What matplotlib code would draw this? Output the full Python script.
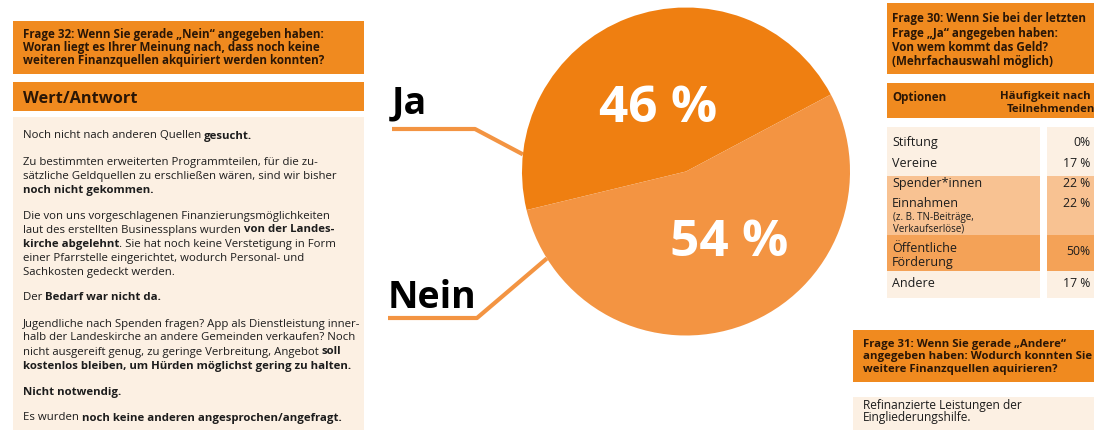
import matplotlib
matplotlib.use("Agg")
import matplotlib.pyplot as plt
from matplotlib.font_manager import FontProperties
from matplotlib.patches import Rectangle
import numpy as np

plt.rcParams['font.family'] = ['Open Sans', 'DejaVu Sans']

# === Data ===

pie_labels = ['Ja', 'Nein']
pie_values = [46, 54]

q32_title = [
    'Frage 32: Wenn Sie gerade „Nein“ angegeben haben:',
    'Woran liegt es Ihrer Meinung nach, dass noch keine',
    'weiteren Finanzquellen akquiriert werden konnten?',
]
q32_header = 'Wert/Antwort'

# each answer = list of lines, each line = list of (text, bold)
q32_answers = [
    [[('Noch nicht nach anderen Quellen ', False), ('gesucht.', True)]],
    [[('Zu bestimmten erweiterten Programmteilen, für die zu-', False)],
     [('sätzliche Geldquellen zu erschließen wären, sind wir bisher', False)],
     [('noch nicht gekommen.', True)]],
    [[('Die von uns vorgeschlagenen Finanzierungsmöglichkeiten', False)],
     [('laut des erstellten Businessplans wurden ', False), ('von der Landes-', True)],
     [('kirche abgelehnt', True), ('. Sie hat noch keine Verstetigung in Form', False)],
     [('einer Pfarrstelle eingerichtet, wodurch Personal- und', False)],
     [('Sachkosten gedeckt werden.', False)]],
    [[('Der ', False), ('Bedarf war nicht da.', True)]],
    [[('Jugendliche nach Spenden fragen? App als Dienstleistung inner-', False)],
     [('halb der Landeskirche an andere Gemeinden verkaufen? Noch', False)],
     [('nicht ausgereift genug, zu geringe Verbreitung, Angebot ', False), ('soll', True)],
     [('kostenlos bleiben, um Hürden möglichst gering zu halten.', True)]],
    [[('Nicht notwendig.', True)]],
    [[('Es wurden ', False), ('noch keine anderen angesprochen/angefragt.', True)]],
]

q30_title = [
    'Frage 30: Wenn Sie bei der letzten',
    'Frage „Ja“ angegeben haben:',
    'Von wem kommt das Geld?',
    '(Mehrfachauswahl möglich)',
]
q30_col_headers = ['Optionen', 'Häufigkeit nach', 'Teilnehmenden']
q30_options = [['Stiftung'], ['Vereine'], ['Spender*innen'], ['Einnahmen'],
               ['Öffentliche', 'Förderung'], ['Andere']]
q30_notes = ['', '', '', '(z. B. TN-Beiträge,\nVerkaufserlöse)', '', '']
q30_values = [0, 17, 22, 22, 50, 17]
q30_value_labels = ['0%', '17 %', '22 %', '22 %', '50%', '17 %']

q31_title = [
    'Frage 31: Wenn Sie gerade „Andere“',
    'angegeben haben: Wodurch konnten Sie',
    'weitere Finanzquellen aquirieren?',
]
q31_answer = ['Refinanzierte Leistungen der', 'Eingliederungshilfe.']

# === Styles / layout (pixel coordinates, y downwards) ===

W, H = 1094, 430
ORANGE = '#f08a1f'
JA_COLOR = '#ef7f11'
NEIN_COLOR = '#f39442'
BEIGE = '#fcf0e3'
MID = '#f8c292'
DARK = '#f4a257'
TEXT = '#1c1c1c'
HEAD_TEXT = '#2a1606'

PIE_CX, PIE_CY, PIE_R = 686, 171.5, 164

BODY_PT = 8.2
HEAD_PT = 8.4


def text_width(renderer, s, size, weight):
    fp = FontProperties(family=plt.rcParams['font.family'], size=size, weight=weight)
    w1, _, _ = renderer.get_text_width_height_descent(s + 'x', fp, ismath=False)
    w2, _, _ = renderer.get_text_width_height_descent('x', fp, ismath=False)
    return w1 - w2


def draw_rich(ax, renderer, x, y, parts, size, color=TEXT):
    for txt, bold in parts:
        weight = 'bold' if bold else 'normal'
        ax.text(x, y, txt, fontsize=size, fontweight=weight, color=color,
                va='baseline', ha='left')
        x += text_width(renderer, txt, size, weight)


def draw_left_panel(ax, renderer):
    ax.add_patch(Rectangle((13, 21), 351, 53, color=ORANGE, lw=0))
    for i, line in enumerate(q32_title):
        ax.text(23, 38 + i * 13, line, fontsize=HEAD_PT, fontweight='bold',
                color=HEAD_TEXT, va='baseline')
    ax.add_patch(Rectangle((13, 82), 351, 29, color=ORANGE, lw=0))
    ax.text(23, 103, q32_header, fontsize=11.8, fontweight='bold',
            color=HEAD_TEXT, va='baseline')
    ax.add_patch(Rectangle((13, 117), 351, 320, color=BEIGE, lw=0))

    y = 138.5
    for answer in q32_answers:
        for line in answer:
            draw_rich(ax, renderer, 23, y, line, BODY_PT)
            y += 14
        y += 12


def draw_pie(fig, ax):
    ax_pie = fig.add_axes([(PIE_CX - PIE_R) / W, (H - PIE_CY - PIE_R) / H,
                           2 * PIE_R / W, 2 * PIE_R / H])
    wedges, _, autotexts = ax_pie.pie(
        pie_values, colors=[JA_COLOR, NEIN_COLOR], startangle=28,
        counterclock=True, radius=1, autopct=lambda p: f'{p:.0f} %',
        wedgeprops=dict(linewidth=0),
        textprops=dict(color='white', fontsize=37, fontweight='bold'))
    # the percentages sit a bit off the wedge middles in the original
    label_polar = [(0.42, 114), (0.51, 301)]
    for t, (r, ang) in zip(autotexts, label_polar):
        a = np.radians(ang)
        t.set_position((r * np.cos(a), r * np.sin(a)))
    ax_pie.set_xlim(-1, 1)
    ax_pie.set_ylim(-1, 1)
    ax_pie.axis('off')

    # leader lines + labels
    leaders = {'Ja': (174, (475, 129), 392, 113),
               'Nein': (212, (477, 318), 388, 308)}
    for lab in pie_labels:
        ang, elbow, x0, base = leaders[lab]
        a = np.radians(ang)
        end = (PIE_CX + PIE_R * np.cos(a), PIE_CY - PIE_R * np.sin(a))
        ax.plot([x0, elbow[0], end[0]], [elbow[1], elbow[1], end[1]],
                color=NEIN_COLOR, lw=3, solid_capstyle='butt', zorder=1)
        ax.text(x0, base, lab, fontsize=27, fontweight='bold', color='black',
                va='baseline')


def draw_right_panel(ax):
    ax.add_patch(Rectangle((887, 3), 220, 71, color=ORANGE, lw=0))
    for i, line in enumerate(q30_title):
        ax.text(892, 22 + i * 14.5, line, fontsize=HEAD_PT, fontweight='bold',
                color=HEAD_TEXT, va='baseline')

    ax.add_patch(Rectangle((887, 83), 220, 35, color=ORANGE, lw=0))
    ax.text(892, 101, q30_col_headers[0], fontsize=HEAD_PT, fontweight='bold',
            color=HEAD_TEXT, va='baseline')
    ax.text(1000, 99, q30_col_headers[1], fontsize=8.2, fontweight='bold',
            color=HEAD_TEXT, va='baseline')
    ax.text(1007, 112, q30_col_headers[2], fontsize=8.2, fontweight='bold',
            color=HEAD_TEXT, va='baseline')

    row_edges = [127, 152, 176, 193, 235, 271, 298]
    text_y = [146, 167, 187, 207, 252, 287]
    value_y = [146, 167, 187, 207, 255, 287]
    for i, (opt, note, val, vlab) in enumerate(zip(q30_options, q30_notes,
                                                    q30_values, q30_value_labels)):
        if val >= 50:
            col = DARK
        elif val >= 20:
            col = MID
        else:
            col = BEIGE
        top, bot = row_edges[i], row_edges[i + 1]
        ax.add_patch(Rectangle((887, top), 153, bot - top, color=col, lw=0))
        ax.add_patch(Rectangle((1047, top), 60, bot - top, color=col, lw=0))
        for j, line in enumerate(opt):
            ax.text(892, text_y[i] + j * 14, line, fontsize=9, color=TEXT,
                    va='baseline')
        if note:
            for j, line in enumerate(note.split('\n')):
                ax.text(893, text_y[i] + 13 + j * 11.5, line, fontsize=7,
                        color=TEXT, va='baseline')
        ax.text(1090, value_y[i], vlab, fontsize=8.8, color=TEXT,
                va='baseline', ha='right')

    ax.add_patch(Rectangle((853, 330), 260, 52, color=ORANGE, lw=0))
    for i, line in enumerate(q31_title):
        ax.text(863, 347 + i * 12.5, line, fontsize=8.2, fontweight='bold',
                color=HEAD_TEXT, va='baseline')
    ax.add_patch(Rectangle((853, 397), 260, 40, color=BEIGE, lw=0))
    for i, line in enumerate(q31_answer):
        ax.text(863, 409 + i * 12, line, fontsize=8.6, color=TEXT,
                va='baseline')


def main():
    fig = plt.figure(figsize=(W / 100, H / 100), dpi=100)
    ax = fig.add_axes([0, 0, 1, 1])
    ax.set_xlim(0, W)
    ax.set_ylim(H, 0)
    ax.axis('off')
    renderer = fig.canvas.get_renderer()

    draw_left_panel(ax, renderer)
    draw_right_panel(ax)
    draw_pie(fig, ax)

    fig.savefig('out.png', dpi=100)


if __name__ == "__main__":
    main()
